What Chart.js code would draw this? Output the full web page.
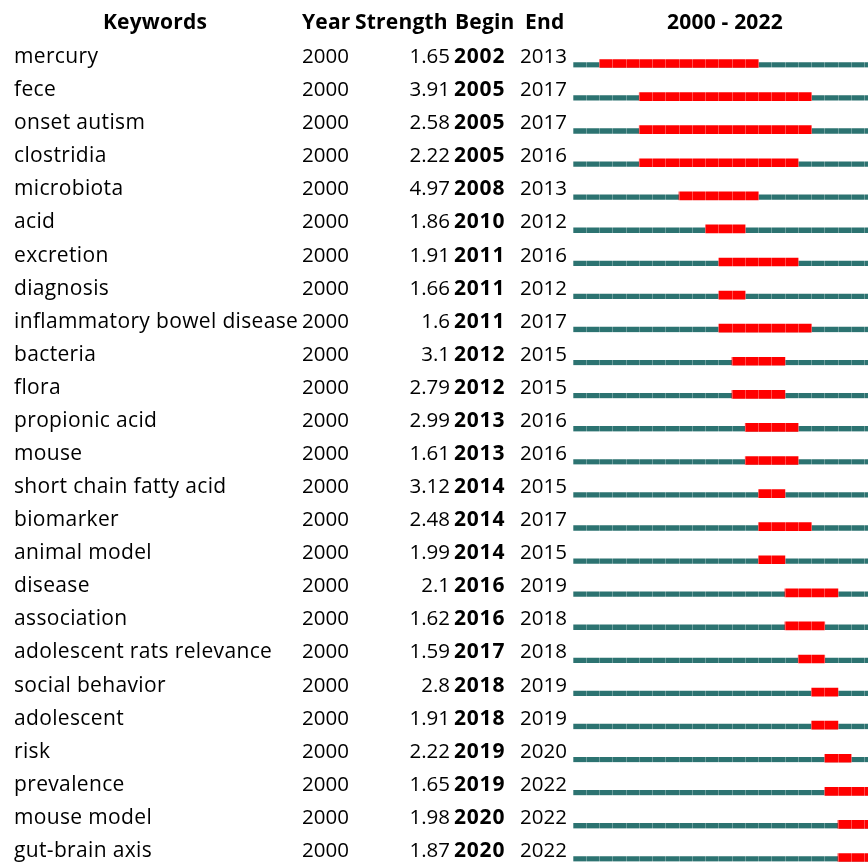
<!DOCTYPE html>
<html>
<head>
<meta charset="utf-8">
<script src="https://cdn.jsdelivr.net/npm/chart.js@4"></script>
<style>
  html, body { margin: 0; padding: 0; background: #fff; overflow: hidden; }
  #burstChart { display: block; }
</style>
</head>
<body>
<canvas id="burstChart" width="880" height="890"></canvas>
<script>
// Top 25 keywords with the strongest citation bursts
const keywords = [
  'mercury', 'fece', 'onset autism', 'clostridia', 'microbiota', 'acid',
  'excretion', 'diagnosis', 'inflammatory bowel disease', 'bacteria', 'flora',
  'propionic acid', 'mouse', 'short chain fatty acid', 'biomarker',
  'animal model', 'disease', 'association', 'adolescent rats relevance',
  'social behavior', 'adolescent', 'risk', 'prevalence', 'mouse model',
  'gut-brain axis'
];
const firstYear = [
  2000, 2000, 2000, 2000, 2000, 2000, 2000, 2000, 2000, 2000, 2000, 2000, 2000,
  2000, 2000, 2000, 2000, 2000, 2000, 2000, 2000, 2000, 2000, 2000, 2000
];
const strength = [
  1.65, 3.91, 2.58, 2.22, 4.97, 1.86, 1.91, 1.66, 1.6, 3.1, 2.79, 2.99, 1.61,
  3.12, 2.48, 1.99, 2.1, 1.62, 1.59, 2.8, 1.91, 2.22, 1.65, 1.98, 1.87
];
const burstBegin = [
  2002, 2005, 2005, 2005, 2008, 2010, 2011, 2011, 2011, 2012, 2012, 2013, 2013,
  2014, 2014, 2014, 2016, 2016, 2017, 2018, 2018, 2019, 2019, 2020, 2020
];
const burstEnd = [
  2013, 2017, 2017, 2016, 2013, 2012, 2016, 2012, 2017, 2015, 2015, 2016, 2016,
  2015, 2017, 2015, 2019, 2018, 2018, 2019, 2019, 2020, 2022, 2022, 2022
];
const rangeStart = 2000;
const rangeEnd = 2022;
const headers = ['Keywords', 'Year', 'Strength', 'Begin', 'End', rangeStart + ' - ' + rangeEnd];

const FONT = '"Open Sans", "Noto Sans", sans-serif';

// draws the table columns next to the timeline
const burstTablePlugin = {
  id: 'burstTable',
  afterDraw(chart) {
    const ctx = chart.ctx;
    const yScale = chart.scales.y;
    ctx.save();
    ctx.fillStyle = '#000';
    ctx.textBaseline = 'alphabetic';

    // header row
    ctx.font = 'bold 21px ' + FONT;
    ctx.letterSpacing = '0.2px';
    const headY = 29;
    ctx.textAlign = 'center';
    ctx.fillText(headers[0], 155, headY);
    ctx.textAlign = 'left';
    ctx.fillText(headers[1], 302, headY);
    ctx.fillText(headers[2], 355, headY);
    ctx.fillText(headers[3], 455, headY);
    ctx.fillText(headers[4], 525, headY);
    ctx.textAlign = 'center';
    ctx.fillText(headers[5], 725, headY);

    keywords.forEach((kw, i) => {
      const y = yScale.getPixelForValue(i) - 0.5;
      ctx.font = '21px ' + FONT;
      ctx.letterSpacing = '0.35px';
      ctx.textAlign = 'left';
      ctx.fillText(kw, 14, y);
      ctx.font = '20.5px ' + FONT;
      ctx.letterSpacing = '0px';
      ctx.fillText(String(firstYear[i]), 302, y);
      ctx.textAlign = 'right';
      ctx.fillText(String(strength[i]), 450, y);
      ctx.font = 'bold 21px ' + FONT;
      ctx.letterSpacing = '0.8px';
      ctx.textAlign = 'left';
      ctx.fillText(String(burstBegin[i]), 454, y);
      ctx.font = '20.5px ' + FONT;
      ctx.letterSpacing = '0px';
      ctx.fillText(String(burstEnd[i]), 520, y);
    });
    ctx.restore();
  }
};

const ctx = document.getElementById('burstChart');
new Chart(ctx, {
  type: 'bar',
  data: {
    labels: keywords,
    datasets: [
      {
        label: 'Burst',
        data: keywords.map((kw, i) => [burstBegin[i], burstEnd[i] + 1]),
        backgroundColor: '#FF0000',
        borderWidth: 0,
        barThickness: 8,
        grouped: false,
        order: 0
      },
      {
        // same band as the burst, white top edge so the strip sits on the bottom
        label: 'Timeline',
        data: keywords.map(() => [rangeStart, rangeEnd + 1]),
        backgroundColor: '#2C7371',
        borderColor: '#FFFFFF',
        borderWidth: { top: 3, right: 0, bottom: 0, left: 0 },
        borderSkipped: false,
        barThickness: 8,
        grouped: false,
        order: 1
      }
    ]
  },
  options: {
    indexAxis: 'y',
    responsive: false,
    animation: false,
    events: [],
    layout: {
      padding: { left: 573, right: 2.25, top: 47, bottom: 16 }
    },
    plugins: {
      legend: { display: false },
      tooltip: { enabled: false }
    },
    scales: {
      x: {
        type: 'linear',
        position: 'top',
        min: rangeStart,
        max: rangeEnd + 1,
        ticks: { display: false, stepSize: 1 },
        grid: { z: 1, color: 'rgba(255, 255, 255, 0.3)', lineWidth: 1, drawTicks: false },
        border: { display: false }
      },
      y: {
        type: 'category',
        display: false
      }
    }
  },
  plugins: [burstTablePlugin]
});
</script>
</body>
</html>
